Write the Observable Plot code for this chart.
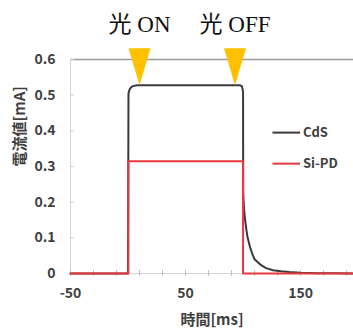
<!DOCTYPE html>
<html><head><meta charset="utf-8">
<script src="https://cdn.jsdelivr.net/npm/d3@7"></script>
<script src="https://cdn.jsdelivr.net/npm/@observablehq/plot@0.6"></script>
<style>body{margin:0;background:#fff}</style>
</head><body><div id="chart"></div>
<script>
// Data
const cdsTime    = [-50, 0, 0.4, 1.5, 3, 5, 8, 20, 50, 80, 97, 99, 100, 100.1, 100.5, 101, 102, 103, 104, 106, 108, 110, 115, 120, 126, 133, 140, 150, 165, 180, 196];
const cdsCurrent = [0, 0, 0.505, 0.517, 0.523, 0.526, 0.528, 0.528, 0.528, 0.528, 0.528, 0.525, 0.51, 0.232, 0.2, 0.175, 0.145, 0.12, 0.1, 0.075, 0.055, 0.04, 0.025, 0.015, 0.009, 0.006, 0.004, 0.002, 0.001, 0.0005, 0];
const siTime     = [-50, 0.3, 0.3, 100, 100, 196];
const siCurrent  = [0, 0, 0.315, 0.315, 0, 0];
const seriesNames = ["CdS", "Si-PD"];
const markerTimes = [10, 93];
const markerLabels = ["光 ON", "光 OFF"];
const markerLevel = 0.528;
const yTicks = [0, 0.1, 0.2, 0.3, 0.4, 0.5, 0.6];
const xTickLabels = [-50, 50, 150];
const xMinorTicks = d3.range(-50, 196, 20);

const cds = cdsTime.map((t, i) => ({t, v: cdsCurrent[i]}));
const si = siTime.map((t, i) => ({t, v: siCurrent[i]}));
const markers = markerTimes.map((t, i) => ({t, label: markerLabels[i]}));

const colors = {"CdS": "#3a3a3a", "Si-PD": "#e8383d"};
const tri = {draw(ctx) { ctx.moveTo(0, 0); ctx.lineTo(-11, -37); ctx.lineTo(11, -37); ctx.closePath(); }};
const labelFont = "'Noto Sans CJK JP', 'Noto Sans', sans-serif";

const chart = Plot.plot({
  width: 353, height: 329,
  marginLeft: 70, marginRight: 0, marginTop: 59, marginBottom: 56,
  style: {fontFamily: labelFont, background: "#fff"},
  x: {domain: [-50, 196]},
  y: {domain: [0, 0.6]},
  marks: [
    Plot.ruleY([0.6], {stroke: "#9a9a9a", strokeWidth: 1.3}),
    Plot.ruleX([-50], {stroke: "#d4d4d4", strokeWidth: 1}),
    Plot.ruleY([0], {stroke: "#d4d4d4", strokeWidth: 1}),
    Plot.ruleY(yTicks, {x1: -50, x2: -46.5, stroke: "#cfcfcf"}),
    Plot.ruleX(xMinorTicks, {y1: -0.008, y2: 0.008, stroke: "#bdbdbd"}),
    Plot.axisY(yTicks, {tickSize: 0, tickPadding: 15, tickFormat: d => d === 0 ? "0" : d3.format(".1f")(d), fontSize: 14, fontWeight: "bold", fill: "#404040", label: null}),
    Plot.axisX(xTickLabels, {tickSize: 0, tickPadding: 15, tickFormat: d => String(d), fontSize: 14, fontWeight: "bold", fill: "#404040", label: null}),
    Plot.line(cds, {x: "t", y: "v", stroke: colors["CdS"], strokeWidth: 2, curve: "linear"}),
    Plot.line(si, {x: "t", y: "v", stroke: colors["Si-PD"], strokeWidth: 2}),
    Plot.dot(markers, {x: "t", y: () => markerLevel, symbol: tri, fill: "#ffc000", stroke: "none", r: 1}),
    Plot.text(markers, {x: "t", text: "label", frameAnchor: "top", lineAnchor: "middle", dy: -35, fontSize: 23, fill: "#111", fontFamily: "'Liberation Serif', 'Noto Sans CJK JP', serif"}),
    Plot.ruleY([0.395], {x1: 126, x2: 150, stroke: colors["CdS"], strokeWidth: 2}),
    Plot.ruleY([0.308], {x1: 126, x2: 150, stroke: colors["Si-PD"], strokeWidth: 2}),
    Plot.text([{n: seriesNames[0], v: 0.395}, {n: seriesNames[1], v: 0.308}], {x: 152, y: "v", text: "n", textAnchor: "start", fontSize: 13, fontWeight: "bold", fill: "#404040"}),
    Plot.text(["時間[ms]"], {frameAnchor: "bottom", lineAnchor: "middle", dy: 47, fontSize: 15, fontWeight: "bold", fill: "#404040"}),
    Plot.text(["電流値[mA]"], {frameAnchor: "left", dx: -50, rotate: -90, fontSize: 15, fontWeight: "bold", fill: "#404040"})
  ]
});
document.getElementById("chart").append(chart);
</script>
</body></html>
